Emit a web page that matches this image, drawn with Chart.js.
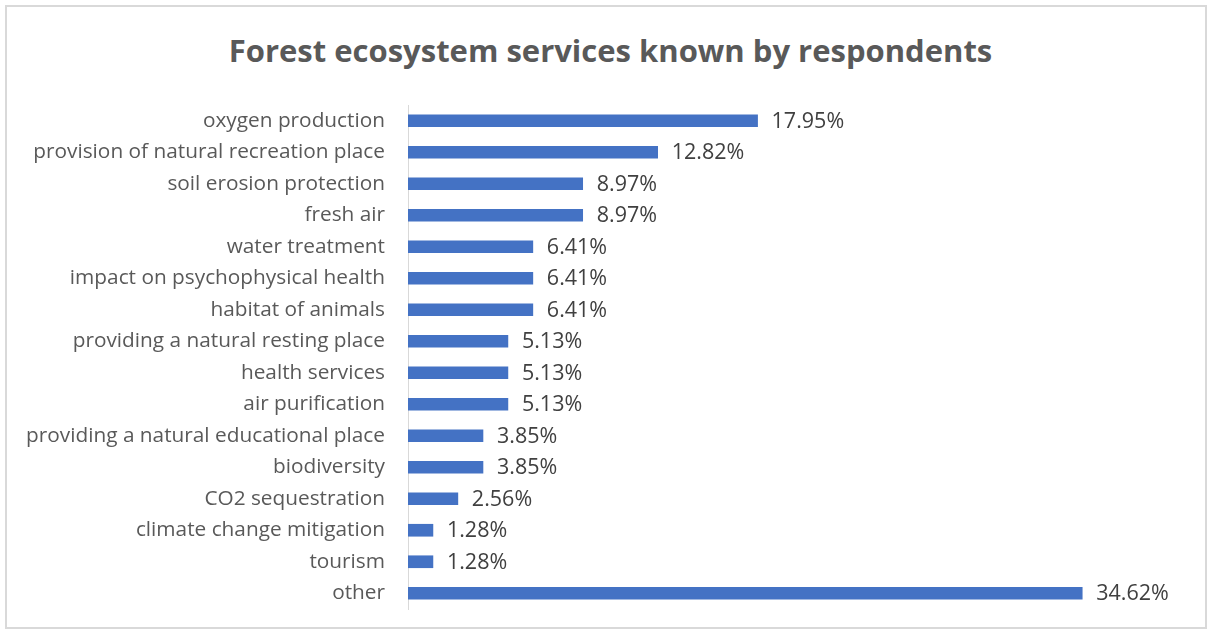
<!DOCTYPE html>
<html>
<head>
<meta charset="utf-8">
<script src="https://cdn.jsdelivr.net/npm/chart.js@4.4.0/dist/chart.umd.min.js"></script>
<style>
  html, body { margin: 0; padding: 0; background: #fff; }
  #wrap { position: relative; width: 1213px; height: 634px; }
  #frame { position: absolute; left: 5px; top: 5px; width: 1198px; height: 620px; border: 2px solid #d9d9d9; }
  #title { position: absolute; left: 4px; width: 1213px; top: 29px; text-align: center;
           font: bold 31px "Open Sans", sans-serif; color: #595959; }
  canvas { position: absolute; left: 0; top: 0; }
</style>
</head>
<body>
<div id="wrap">
  <div id="frame"></div>
  <div id="title">Forest ecosystem services known by respondents</div>
  <canvas id="myChart" width="1213" height="634"></canvas>
</div>
<script>
let services = [
  "oxygen production",
  "provision of natural recreation place",
  "soil erosion protection",
  "fresh air",
  "water treatment",
  "impact on psychophysical health",
  "habitat of animals",
  "providing a natural resting place",
  "health services",
  "air purification",
  "providing a natural educational place",
  "biodiversity",
  "CO2 sequestration",
  "climate change mitigation",
  "tourism",
  "other"
];
let shares = [17.95, 12.82, 8.97, 8.97, 6.41, 6.41, 6.41, 5.13, 5.13, 5.13, 3.85, 3.85, 2.56, 1.28, 1.28, 34.62];

// writes the percentage just past the end of each bar
let valueLabels = {
  id: "valueLabels",
  afterDatasetsDraw(chart) {
    let ctx = chart.ctx;
    let meta = chart.getDatasetMeta(0);
    ctx.save();
    ctx.font = '21.5px "Open Sans", sans-serif';
    ctx.fillStyle = "#404040";
    ctx.textAlign = "left";
    ctx.textBaseline = "middle";
    meta.data.forEach((bar, i) => {
      ctx.fillText(shares[i].toFixed(2) + "%", bar.x + 14, bar.y + 1);
    });
    ctx.restore();
  }
};

const ctx = document.getElementById("myChart");
new Chart(ctx, {
  type: "bar",
  data: {
    labels: services,
    datasets: [
      {
        data: shares,
        backgroundColor: "#4472c4",
        barThickness: 12,
      },
    ],
  },
  options: {
    indexAxis: "y",
    responsive: false,
    animation: false,
    layout: { padding: { top: 105, bottom: 25, left: 0, right: 26 } },
    plugins: {
      legend: { display: false },
      tooltip: { enabled: false },
    },
    scales: {
      x: { min: 0, max: 40, display: false },
      y: {
        afterFit(scale) {
          scale.width = 408;
          // no extra room for the first/last label, the layout padding covers it
          scale.paddingTop = 0;
          scale.paddingBottom = 0;
        },
        grid: { display: true, drawOnChartArea: false, drawTicks: false },
        border: { display: true, color: "#d9d9d9", width: 1 },
        ticks: {
          padding: 23,
          color: "#595959",
          font: { family: '"Open Sans", sans-serif', size: 20.8 },
        },
      },
    },
  },
  plugins: [valueLabels],
});
</script>
</body>
</html>
